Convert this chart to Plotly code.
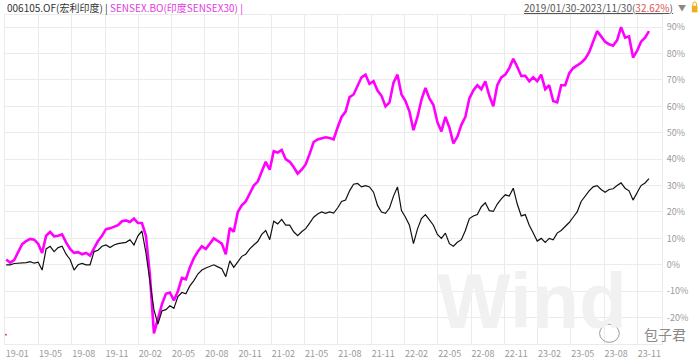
import plotly.graph_objects as go

# ---- data ----
# samples are evenly spaced along the trading-day axis (start 2019/01/30 -> end 2023/11/30)
fund_name = "006105.OF(宏利印度)"
index_name = "SENSEX.BO(印度SENSEX30)"
period_text = "2019/01/30-2023/11/30"
period_return = "32.62%"

fund_ret = [
    0, 0, 0.5, 0.6, 0.6, 0.8, 1.2, 0.6, 1, -2,
    6, 7, 5, 6.5, 7, 4, 2, -2, 0, 0.5,
    0, 0, 5, 5.5, 7, 7.5, 6.5, 7.5, 8, 8.2,
    8.5, 9.5, 7.5, 11, 12.8, 4.5, -6, -17, -22.5, -17.5,
    -17, -15.5, -16.5, -12, -10.5, -11, -8, -6, -3.5, -2,
    -1.2, -0.6, 0, -0.8, -1.5, -4.5, 1.5, -1, 1.2, 3.2,
    4, 6, 7.5, 8.8, 11.5, 13, 9.5, 16.5, 15.5, 17.2,
    15, 15, 12.5, 11, 12.5, 13.7, 15.8, 18, 19.2, 20,
    19.5, 20, 19.6, 21.5, 24, 24.5, 28, 30.5, 30.8, 29.5,
    30, 29.5, 27.5, 22.5, 20, 19.5, 21.5, 26, 29.5, 20.5,
    18, 15, 8, 13.5, 17.5, 19, 17, 15, 11.5, 10,
    12, 8, 7, 8.5, 9.5, 13, 17.5, 18.5, 19, 22,
    23.5, 20.5, 20.2, 23, 25, 26.5, 26, 29, 23, 18.5,
    19, 15, 12, 9, 10, 8.5, 10, 9.5, 12, 13,
    14.5, 16, 18, 20, 24, 26, 28, 29.5, 30, 28.5,
    27.5, 28.5, 28.8, 30, 31, 29, 28, 24.5, 27, 30,
    31, 32.62,
]

index_ret = [
    2, 0.8, 1.8, 5, 7.8, 9, 9.8, 9.5, 8, 4.5,
    11, 12.5, 10.8, 11, 11.5, 8.5, 6, 4.5, 4.8, 4,
    4.5, 3.5, 6.5, 9, 11, 13.5, 13.8, 14.5, 15, 16.5,
    16.8, 16.2, 17.5, 15.8, 15.8, 11, -4, -26, -20, -15,
    -11, -10.5, -13.5, -10, -5, -5.5, -1, 2.5, 5, 7,
    6, 8, 10, 9, 8, 4, 14, 12.5, 20, 22.5,
    24, 27, 30, 31.5, 35.5, 39, 36, 43, 42.5, 43.5,
    40, 39, 37, 34.5, 36, 38, 42, 46.5, 47.5, 47.8,
    48.3, 48, 47.5, 52, 56, 58, 63.5, 64.5, 68, 71,
    72, 68.5, 69.5, 66, 64, 60, 61.5, 69, 72, 64.5,
    62, 58, 51, 56, 62.5, 67, 63, 60.5, 54, 50.5,
    56, 52, 46, 48.5, 53, 56, 63, 66, 68, 66.5,
    69.5, 64, 60, 68, 71, 72, 74.5, 78, 75, 71.5,
    71.6, 69.5, 71, 69.5, 72, 66.5, 68, 62, 61.5, 68,
    68, 72.5, 74.5, 75.5, 76.5, 78, 80.5, 84.5, 88.5, 86.5,
    84.5, 83.5, 83, 85, 90, 86, 86.5, 78.5, 81, 84.5,
    86, 88.5,
]

tick_labels = ["19-01", "19-05", "19-08", "19-11", "20-02", "20-05", "20-08",
               "20-11", "21-02", "21-05", "21-08", "21-11", "22-02", "22-05",
               "22-08", "22-11", "23-02", "23-05", "23-08", "23-11"]
y_ticks = [-20, -10, 0, 10, 20, 30, 40, 50, 60, 70, 80, 90]

# ---- figure ----
x = list(range(len(fund_ret)))
samples_per_label = 8.333          # label spacing in samples
tick_pos = [k * samples_per_label - 0.25 for k in range(len(tick_labels))]

PINK = "#ff00ff"
GRID = "#ebebeb"
TXT = "#9a9a9a"
FONT = "Noto Sans CJK SC, Noto Sans, sans-serif"

fig = go.Figure()
fig.add_trace(go.Scatter(x=x, y=index_ret, mode="lines",
                         line=dict(color=PINK, width=2.6), name=index_name,
                         hoverinfo="skip"))
fig.add_trace(go.Scatter(x=x, y=fund_ret, mode="lines",
                         line=dict(color="#111111", width=1.2), name=fund_name,
                         hoverinfo="skip"))

fig.update_layout(
    width=700, height=364,
    margin=dict(l=4, r=38, t=15, b=17),
    paper_bgcolor="white", plot_bgcolor="white",
    showlegend=False,
    font=dict(family=FONT, size=9, color=TXT),
)
fig.update_xaxes(
    range=[-0.3, 164.25], tickmode="array", tickvals=tick_pos, ticktext=tick_labels,
    showgrid=True, gridcolor=GRID, gridwidth=1, zeroline=False,
    showline=True, linecolor=GRID, mirror=True,
    ticks="", ticklabelshift=12, ticklabelstandoff=1,
    tickfont=dict(size=9, color=TXT, family=FONT),
)
fig.update_yaxes(
    side="right", range=[-30, 94.6], tickmode="array", tickvals=y_ticks,
    ticktext=[f"{v}%" for v in y_ticks],
    showgrid=True, gridcolor=GRID, gridwidth=1, zeroline=False,
    showline=True, linecolor=GRID, mirror=True,
    ticks="", ticklabelstandoff=2,
    tickfont=dict(size=9, color=TXT, family=FONT),
)

# header texts
fig.add_annotation(
    xref="paper", yref="paper", x=0.0, y=1.024, xanchor="left", yanchor="middle",
    showarrow=False, font=dict(size=10, color="#333333", family=FONT),
    text=f"{fund_name} | <span style='color:#e23be2'>{index_name} |</span>",
)
fig.add_annotation(
    xref="paper", yref="paper", x=1.02, y=1.024, xanchor="right", yanchor="middle",
    showarrow=False, font=dict(size=10, color="#555555", family=FONT),
    text=f"<u>{period_text}(<span style='color:#d9534f'>{period_return}</span>)</u>",
)
fig.add_annotation(
    xref="paper", yref="paper", x=1.031, y=1.024, xanchor="center", yanchor="middle",
    showarrow=False, font=dict(size=8, color="#888888", family=FONT), text="▼",
)
# small lock icon
fig.add_shape(type="rect", xref="paper", yref="paper",
              x0=1.0455, x1=1.054, y0=1.008, y1=1.028,
              fillcolor="#f0ad1e", line=dict(width=0))
fig.add_shape(type="circle", xref="paper", yref="paper",
              x0=1.0468, x1=1.0527, y0=1.02, y1=1.04,
              fillcolor="rgba(0,0,0,0)", line=dict(color="#f0ad1e", width=1))
# small red marker at the lower-left corner
fig.add_shape(type="circle", xref="paper", yref="paper",
              x0=0.0, x1=0.003, y0=0.025, y1=0.031,
              fillcolor="#d9534f", line=dict(width=0))

# watermarks
fig.add_annotation(
    xref="paper", yref="paper", x=0.655, y=-0.01, xanchor="left", yanchor="bottom",
    showarrow=False, font=dict(size=78, color="#f1f1f1", family="Liberation Sans"),
    text="<b>Wind</b>",
)
fig.add_annotation(
    xref="paper", yref="paper", x=1.005, y=0.03, xanchor="center", yanchor="middle",
    showarrow=False, font=dict(size=14, color="#8a8a8a", family=FONT), text="包子君",
)
fig.add_shape(type="circle", xref="paper", yref="paper",
              x0=0.905, x1=0.935, y0=0.005, y1=0.06,
              fillcolor="rgba(0,0,0,0)", line=dict(color="#9a9a9a", width=1))

fig.write_html("out.html", config={"displayModeBar": False},
               post_script="document.body.style.margin='0px';")
